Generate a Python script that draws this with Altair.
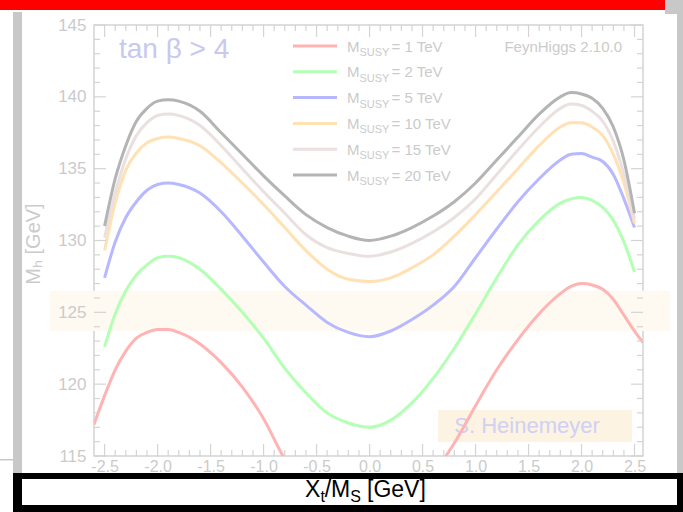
import altair as alt
import pandas as pd

# ---------------- data ----------------
x_main = [-2.5, -2.4, -2.3, -2.2, -2.1, -2.0, -1.9, -1.8, -1.6, -1.4, -1.2, -1.0, -0.8,
          -0.6, -0.4, -0.2, 0.0, 0.2, 0.4, 0.6, 0.8, 1.0, 1.2, 1.4, 1.6, 1.8, 1.9,
          2.0, 2.1, 2.2, 2.3, 2.4, 2.5]
x_red = [-2.6, -2.5, -2.4, -2.3, -2.2, -2.1, -2.0, -1.9, -1.8, -1.6, -1.4, -1.2, -1.0,
         -0.8, -0.6, -0.4, -0.2, 0.0, 0.2, 0.4, 0.6, 0.8, 1.0, 1.2, 1.4, 1.6, 1.8,
         1.9, 2.0, 2.1, 2.2, 2.3, 2.4, 2.5, 2.58]

mh_1tev = [117.2, 119.2, 121.0, 122.3, 123.2, 123.6, 123.8, 123.8, 123.6, 122.8, 121.5,
           119.8, 117.6, 114.8, 113.0, 111.8, 111.2, 111.0, 111.4, 112.3, 113.8, 115.9,
           118.5, 121.0, 123.1, 124.9, 126.3, 126.8, 127.0, 126.9, 126.6, 125.9, 124.8,
           123.7, 122.9]
mh_2tev = [122.6, 124.9, 126.5, 127.6, 128.3, 128.8, 128.9, 128.8, 128.0, 126.6, 125.0,
           123.2, 121.1, 119.4, 118.0, 117.3, 117.0, 117.5, 118.7, 120.4, 122.5, 124.9,
           127.4, 129.7, 131.4, 132.6, 132.9, 133.0, 132.8, 132.3, 131.4, 129.9, 127.8]
mh_5tev = [127.4, 129.9, 131.6, 132.7, 133.5, 133.9, 134.0, 133.9, 133.3, 132.0, 130.3,
           128.5, 126.8, 125.5, 124.3, 123.6, 123.3, 123.7, 124.5, 125.5, 126.8, 128.8,
           130.8, 132.7, 134.3, 135.6, 136.0, 136.05, 135.8, 135.5, 134.6, 132.9, 130.9]
mh_10tev = [129.3, 132.6, 134.9, 136.1, 136.8, 137.1, 137.2, 137.1, 136.6, 135.4, 134.0,
            132.5, 130.9, 129.3, 128.0, 127.3, 127.15, 127.4, 128.1, 129.0, 130.3, 131.8,
            133.4, 135.0, 136.6, 137.9, 138.2, 138.2, 137.9, 137.3, 136.0, 134.0, 131.2]
mh_15tev = [130.2, 133.3, 135.7, 137.3, 138.2, 138.7, 138.8, 138.7, 138.0, 136.6, 135.0,
            133.4, 131.9, 130.4, 129.5, 129.1, 128.9, 129.2, 129.8, 130.6, 131.6, 132.9,
            134.6, 136.3, 137.9, 139.2, 139.5, 139.4, 139.0, 138.3, 136.9, 134.6, 131.5]
mh_20tev = [131.0, 134.3, 136.6, 138.3, 139.2, 139.7, 139.8, 139.7, 139.0, 137.5, 136.0,
            134.5, 133.1, 131.8, 130.9, 130.3, 130.0, 130.3, 130.9, 131.7, 132.7, 134.0,
            135.6, 137.2, 138.8, 140.0, 140.3, 140.2, 139.9, 139.2, 137.9, 135.6, 131.9]

series_names = ["1 TeV", "2 TeV", "5 TeV", "10 TeV", "15 TeV", "20 TeV"]
series_colors = ["#ffb3b3", "#b3ffb3", "#b8b8ff", "#ffe1b3", "#ebe0e0", "#b4b4b4"]

band_lo = [123.7]
band_hi = [126.5]

x_major = [-2.5, -2.0, -1.5, -1.0, -0.5, 0.0, 0.5, 1.0, 1.5, 2.0, 2.5]
y_major = [115, 120, 125, 130, 135, 140, 145]
x_minor = [round(-2.5 + 0.1 * i, 1) for i in range(51) if i % 5 != 0]
y_minor = [115 + i for i in range(31) if i % 5 != 0]

rows = []
for name, xs, ys in zip(series_names,
                        [x_red, x_main, x_main, x_main, x_main, x_main],
                        [mh_1tev, mh_2tev, mh_5tev, mh_10tev, mh_15tev, mh_20tev]):
    for xv, yv in zip(xs, ys):
        rows.append({"series": name, "x": xv, "mh": yv})
df = pd.DataFrame(rows)

# ---------------- layout ----------------
W, H = 549, 431
OX, OY = 94, 25  # plot origin in the page
FONT = "Liberation Sans"
GRAY_TXT = "#cbcbcb"
FRAME = "#d4d4d4"

xscale = alt.Scale(domain=[-2.6, 2.58], nice=False, zero=False)
yscale = alt.Scale(domain=[115, 145], nice=False, zero=False)
cscale = alt.Scale(domain=series_names, range=series_colors)

x_axis = alt.Axis(values=x_major, ticks=False, domain=False, grid=False,
                  labelExpr="replace(format(datum.value, '.1f'), '\u2212', '-')",
                  labelFontSize=16, labelFont=FONT, labelColor=GRAY_TXT,
                  labelPadding=2, labelFlush=False, labelOverlap=False, title=None,
                  zindex=2)
y_axis = alt.Axis(values=y_major, ticks=False, domain=False, grid=False,
                  labelFontSize=17, labelFont=FONT, labelColor=GRAY_TXT,
                  labelPadding=8, labelFlush=False, labelOverlap=False, title=None,
                  zindex=2)

one = pd.DataFrame({"a": [0]})


def px(X):
    return X - OX


def py(Y):
    return Y - OY


def rect(x0, x1, y0, y1, color):
    return alt.Chart(one).mark_rect(color=color, clip=False).encode(
        x=alt.value(px(x0)), x2=alt.value(px(x1)),
        y=alt.value(py(y0)), y2=alt.value(py(y1)))


def txt(s, X, Y, size, color, align="left", baseline="alphabetic", angle=0):
    return alt.Chart(one).mark_text(
        text=s, align=align, baseline=baseline, fontSize=size, color=color,
        font=FONT, angle=angle, clip=False).encode(
        x=alt.value(px(X)), y=alt.value(py(Y)))


layers = []

# page decorations
layers += [
    rect(0, 665, 0, 10, "#ff0000"),
    rect(665, 683, 0, 14, "#c8c8c8"),
    rect(13, 22, 12, 474, "#c8c8c8"),
    rect(677, 683, 12, 474, "#c8c8c8"),
    rect(0, 13, 459, 460.5, "#c8c8c8"),
    rect(13, 683, 473, 512, "#000000"),
    rect(22, 677, 479, 505, "#ffffff"),
]

# yellow band at 125 GeV (extends beyond frame horizontally)
band = alt.Chart(pd.DataFrame({"lo": band_lo, "hi": band_hi})).mark_rect(
    color="#fefaf1", clip=False).encode(
    x=alt.value(px(50)), x2=alt.value(px(670)),
    y=alt.Y("lo:Q", scale=yscale, axis=y_axis), y2="hi:Q")
layers.append(band)

# author box
layers.append(rect(438, 632, 410, 442, "#fdf3e2"))
layers.append(txt("S. Heinemeyer", 527, 426, 22, "#d0d0f4", align="center", baseline="middle"))

# curves
curves = alt.Chart(df).mark_line(strokeWidth=3, clip=True, interpolate="monotone").encode(
    x=alt.X("x:Q", scale=xscale, axis=x_axis),
    y=alt.Y("mh:Q", scale=yscale, axis=y_axis),
    color=alt.Color("series:N", scale=cscale, legend=None),
    detail="series:N",
)
layers.append(curves)


# inward tick marks on all four sides
def xticks(vals, length):
    d = pd.DataFrame({"x": vals})
    bot = alt.Chart(d).mark_rule(color=FRAME, strokeWidth=1.2).encode(
        x=alt.X("x:Q", scale=xscale, axis=x_axis),
        y=alt.value(H), y2=alt.value(H - length))
    top = alt.Chart(d).mark_rule(color=FRAME, strokeWidth=1.2).encode(
        x=alt.X("x:Q", scale=xscale, axis=x_axis),
        y=alt.value(0), y2=alt.value(length))
    return [bot, top]


def yticks(vals, length):
    d = pd.DataFrame({"mh": vals})
    left = alt.Chart(d).mark_rule(color=FRAME, strokeWidth=1.2).encode(
        y=alt.Y("mh:Q", scale=yscale, axis=y_axis),
        x=alt.value(0), x2=alt.value(length))
    right = alt.Chart(d).mark_rule(color=FRAME, strokeWidth=1.2).encode(
        y=alt.Y("mh:Q", scale=yscale, axis=y_axis),
        x=alt.value(W), x2=alt.value(W - length))
    return [left, right]


layers += xticks(x_major, 12) + xticks(x_minor, 6) + yticks(y_major, 12) + yticks(y_minor, 6)

# legend (manual, for subscripts)
for i, (name, col) in enumerate(zip(series_names, series_colors)):
    Y = 46 + 25.8 * i
    layers.append(alt.Chart(one).mark_rule(color=col, strokeWidth=3, clip=False).encode(
        x=alt.value(px(293)), x2=alt.value(px(337)), y=alt.value(py(Y))))
    layers.append(txt("M", 347, Y + 5.5, 15, GRAY_TXT))
    layers.append(txt("SUSY", 359.5, Y + 10, 11, GRAY_TXT))
    layers.append(txt("= " + name, 391.5, Y + 5.5, 15, GRAY_TXT))

# annotations
layers.append(txt("tan \u03b2 > 4", 119, 58, 28, "#c8c8f0"))
layers.append(txt("FeynHiggs 2.10.0", 622, 52, 15, GRAY_TXT, align="right"))

# axis titles
layers.append(txt("M\u2095 [GeV]", 40, 244, 20, GRAY_TXT, align="center", angle=270))
layers += [
    txt("X", 305, 497, 23, "#000000"),
    txt("t", 320.5, 502, 16, "#000000"),
    txt("/M", 324.7, 497, 23, "#000000"),
    txt("S", 350.3, 502, 16, "#000000"),
    txt("[GeV]", 367, 497, 23, "#000000"),
]

chart = alt.layer(*layers).properties(
    width=W, height=H,
    padding={"left": OX, "top": OY, "right": 683 - OX - W, "bottom": 512 - OY - H},
    autosize=alt.AutoSizeParams(type="none"),
    background="#ffffff",
).configure_view(stroke=FRAME, strokeWidth=1.5)

chart.save("out.html", embed_options={"renderer": "svg", "actions": False})
